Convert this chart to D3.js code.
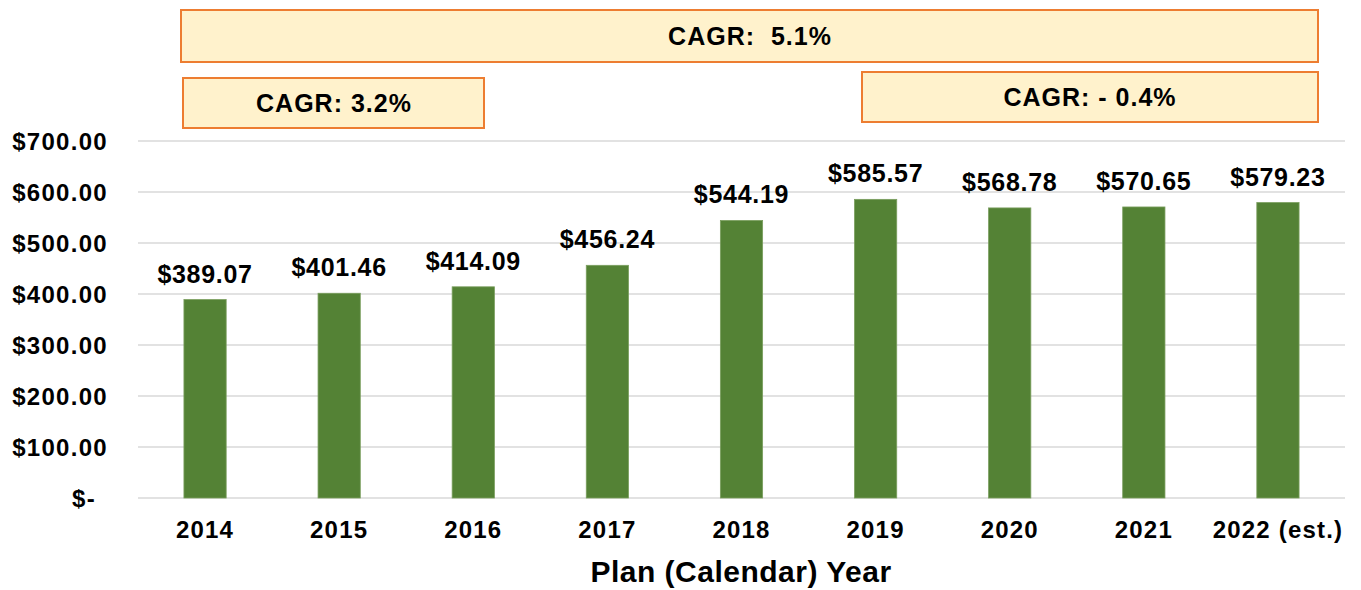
<!DOCTYPE html>
<html>
<head>
<meta charset="utf-8">
<script src="https://cdn.jsdelivr.net/npm/d3@7"></script>
<style>
  body { margin: 0; background: #fff; }
  text { font-family: "Liberation Sans", Arial, sans-serif; font-weight: bold; fill: #000; }
</style>
</head>
<body>
<div id="chart"></div>
<script>
// data
var years = ["2014", "2015", "2016", "2017", "2018", "2019", "2020", "2021", "2022 (est.)"];
var rates = [389.07, 401.46, 414.09, 456.24, 544.19, 585.57, 568.78, 570.65, 579.23];
var yTicks = [0, 100, 200, 300, 400, 500, 600, 700];
var cagrLabels = ["CAGR:  5.1%", "CAGR: 3.2%", "CAGR: - 0.4%"];

// svg size
var w_svg = 1361;
var h_svg = 590;

var svg = d3.select("#chart")
  .append("svg")
    .attr("width", w_svg)
    .attr("height", h_svg);

// scales
var xScale = d3.scaleBand().domain(years).range([138, 1345]).paddingInner(0.685).paddingOuter(0.3425);
var yScale = d3.scaleLinear().domain([0, 700]).range([498, 141]);

// gridlines
svg.append("g")
  .selectAll("line")
  .data(yTicks)
  .enter()
  .append("line")
    .attr("x1", 138)
    .attr("x2", 1345)
    .attr("y1", function(d) { return yScale(d); })
    .attr("y2", function(d) { return yScale(d); })
    .attr("stroke", "#d9d9d9")
    .attr("stroke-width", 1.5);

// y-axis labels
var y_axis = d3.axisLeft(yScale)
  .tickValues(yTicks)
  .tickSize(0)
  .tickPadding(30)
  .tickFormat(function(d) { return d === 0 ? "$-" : "$" + d3.format(".2f")(d); });

var gy = svg.append("g").attr("transform", "translate(138,0)").call(y_axis);
gy.select(".domain").remove();
gy.selectAll("text")
  .style("font-size", "24px")
  .style("letter-spacing", "1.3px")
  .attr("dy", "0.36em")
  .attr("dx", function(d) { return d === 0 ? -12 : 0; });

// x-axis labels
var x_axis = d3.axisBottom(xScale).tickSize(0).tickPadding(23);
var gx = svg.append("g").attr("transform", "translate(0,498)").call(x_axis);
gx.select(".domain").remove();
gx.selectAll("text")
  .style("font-size", "24px")
  .style("letter-spacing", "1.2px");

// bars
svg.selectAll("rect.bar")
  .data(rates)
  .enter()
  .append("rect")
    .attr("class", "bar")
    .attr("x", function(d, i) { return xScale(years[i]); })
    .attr("y", function(d) { return yScale(d); })
    .attr("width", xScale.bandwidth())
    .attr("height", function(d) { return yScale(0) - yScale(d); })
    .attr("fill", "#548235")
    .attr("stroke", "#7a9e5e")
    .attr("stroke-width", 0.8);

// value labels
svg.selectAll("text.val")
  .data(rates)
  .enter()
  .append("text")
    .attr("class", "val")
    .attr("x", function(d, i) { return xScale(years[i]) + xScale.bandwidth() / 2; })
    .attr("y", function(d) { return yScale(d) - 17; })
    .attr("text-anchor", "middle")
    .style("font-size", "25px")
    .style("letter-spacing", "0.7px")
    .text(function(d) { return "$" + d3.format(".2f")(d); });

// axis title
svg.append("text")
  .attr("x", 741)
  .attr("y", 582)
  .attr("text-anchor", "middle")
  .style("font-size", "30px")
  .style("letter-spacing", "0.5px")
  .text("Plan (Calendar) Year");

// CAGR boxes
var boxes = [
  {x: 181, y: 10, w: 1137, h: 52, tx: 750, ty: 45},
  {x: 183, y: 78, w: 301, h: 50, tx: 334, ty: 112},
  {x: 862, y: 72, w: 456, h: 50, tx: 1090, ty: 106}
];

boxes.forEach(function(b, i) {
  svg.append("rect")
    .attr("x", b.x)
    .attr("y", b.y)
    .attr("width", b.w)
    .attr("height", b.h)
    .attr("fill", "#fff2cc")
    .attr("stroke", "#ed7d31")
    .attr("stroke-width", 2);
  svg.append("text")
    .attr("x", b.tx)
    .attr("y", b.ty)
    .attr("text-anchor", "middle")
    .style("font-size", "25px")
    .style("letter-spacing", "1px")
    .style("white-space", "pre")
    .attr("xml:space", "preserve")
    .text(cagrLabels[i]);
});
</script>
</body>
</html>
